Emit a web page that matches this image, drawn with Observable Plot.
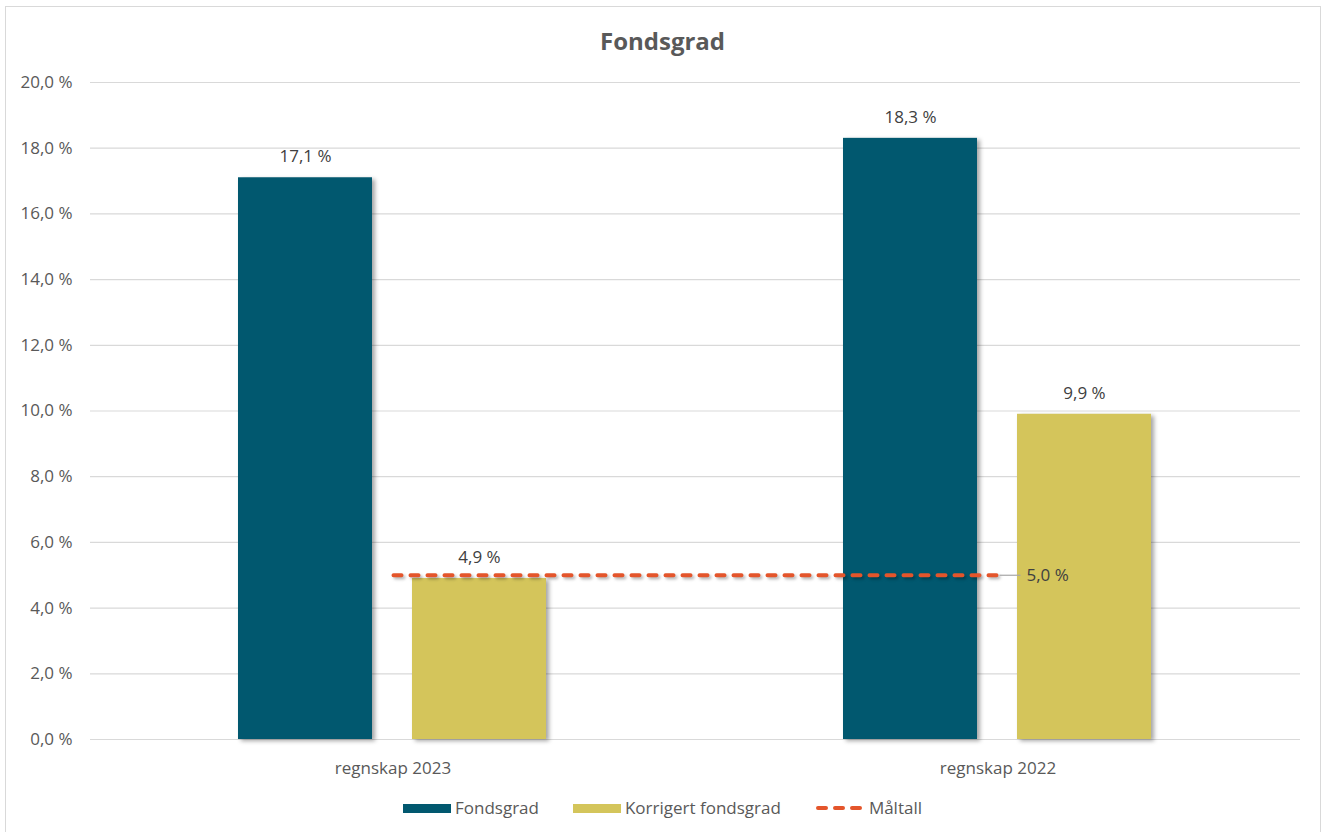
<!DOCTYPE html>
<html>
<head>
<meta charset="utf-8">
<script src="https://cdn.jsdelivr.net/npm/d3@7"></script>
<script src="https://cdn.jsdelivr.net/npm/@observablehq/plot@0.6"></script>
<style>
  body { margin: 0; background: #fff; font-family: "Open Sans", sans-serif; }
  #frame { position: absolute; left: 5px; top: 6px; width: 1316px; height: 832px; border: 1px solid #d9d9d9; box-sizing: border-box; }
  #title { position: absolute; left: 0; top: 26px; width: 1325px; text-align: center; font-weight: bold; font-size: 24px; line-height: 30px; color: #595959; }
  #bars, #overlay { position: absolute; left: 0; top: 60px; }
  #bars g[aria-label="bar"] rect { filter: drop-shadow(3px 2px 2px rgba(0,0,0,0.35)); }
  #overlay g[aria-label="line"] path { filter: drop-shadow(2px 2px 1.5px rgba(0,0,0,0.3)); }
  #legend { position: absolute; left: 0; top: 796px; width: 1325px; display: flex; justify-content: center; align-items: center; font-size: 17px; line-height: 24px; color: #595959; }
  .item { display: flex; align-items: center; margin: 0 17px; }
  .sw { display: inline-block; width: 48px; height: 9px; margin-right: 4px; }
</style>
</head>
<body>
<div id="frame"></div>
<div id="title">Fondsgrad</div>
<div id="bars"></div>
<div id="overlay"></div>
<div id="legend"></div>
<script>
// ---- data ----
const categories = ["regnskap 2023", "regnskap 2022"];
const series = ["Fondsgrad", "Korrigert fondsgrad"];
const fondsgrad = [17.1, 18.3];
const korrigert = [4.9, 9.9];
const maltallName = "Måltall";
const maltall = [5.0, 5.0];
const yTicks = [0, 2, 4, 6, 8, 10, 12, 14, 16, 18, 20];
const seriesColors = ["#01586f", "#d4c55b"];
const maltallColor = "#e4552b";

const fmt = v => v.toFixed(1).replace(".", ",") + " %";

const rows = categories.flatMap((c, i) => [
  {kategori: c, serie: series[0], verdi: fondsgrad[i]},
  {kategori: c, serie: series[1], verdi: korrigert[i]}
]);
const maltallRows = categories.map((c, i) => ({kategori: c, verdi: maltall[i]}));

const common = {
  width: 1325, height: 730,
  marginLeft: 90, marginRight: 25, marginTop: 22, marginBottom: 51,
  style: {fontFamily: "'Open Sans', sans-serif", fontSize: "17px", color: "#595959", background: "transparent", overflow: "visible"}
};

const bars = Plot.plot({
  ...common,
  fx: {domain: categories, padding: 0, axis: "bottom", label: null, tickSize: 0, tickPadding: 22},
  x: {domain: series, axis: null, paddingInner: 0.2286, paddingOuter: 0.843},
  y: {domain: [0, 20], ticks: yTicks, tickFormat: fmt, tickSize: 0, tickPadding: 18, label: null},
  color: {domain: series, range: seriesColors},
  marks: [
    Plot.ruleY(yTicks, {stroke: "#d9d9d9", strokeWidth: 1.2}),
    Plot.barY(rows, {fx: "kategori", x: "serie", y: "verdi", fill: "serie"}),
    Plot.text(rows, {fx: "kategori", x: "serie", y: "verdi", text: d => fmt(d.verdi), dy: -21, fill: "#404040", fontSize: 17})
  ]
});
document.getElementById("bars").appendChild(bars);

const leader = {draw(ctx) { ctx.moveTo(1, 0); ctx.lineTo(22, 0); }};
const last = [maltallRows[maltallRows.length - 1]];

const overlay = Plot.plot({
  ...common,
  x: {type: "point", domain: categories, padding: 0.5, axis: null},
  y: {domain: [0, 20], axis: null},
  marks: [
    Plot.line(maltallRows, {x: "kategori", y: "verdi", stroke: maltallColor, strokeWidth: 4, strokeDasharray: "8,9", strokeLinecap: "round"}),
    Plot.dot(last, {x: "kategori", y: "verdi", symbol: leader, stroke: "#a6a6a6", fill: "none", strokeWidth: 1.2}),
    Plot.text(last, {x: "kategori", y: "verdi", text: d => fmt(d.verdi), dx: 28, textAnchor: "start", fill: "#404040", fontSize: 17})
  ]
});
document.getElementById("overlay").appendChild(overlay);

// ---- legend ----
const legend = document.getElementById("legend");
series.forEach((s, i) => {
  const it = document.createElement("div");
  it.className = "item";
  it.innerHTML = `<span class="sw" style="background:${seriesColors[i]}"></span><span>${s}</span>`;
  legend.appendChild(it);
});
const mi = document.createElement("div");
mi.className = "item";
mi.innerHTML = `<svg width="48" height="10" style="margin-right:6px"><line x1="3" y1="5" x2="45" y2="5" stroke="${maltallColor}" stroke-width="4" stroke-linecap="round" stroke-dasharray="8,9"/></svg><span>${maltallName}</span>`;
legend.appendChild(mi);
</script>
</body>
</html>
